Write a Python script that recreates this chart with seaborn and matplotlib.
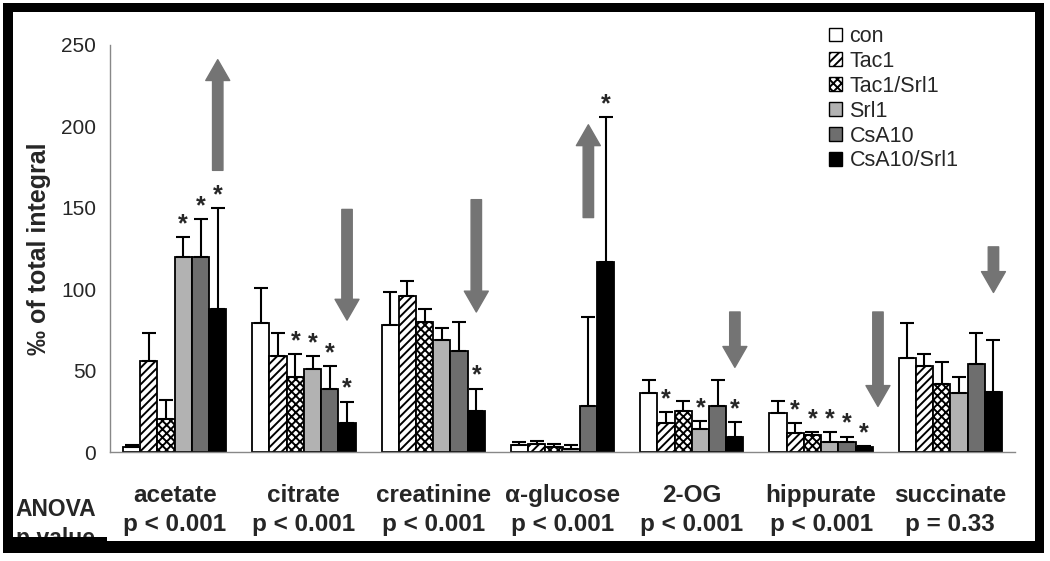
import matplotlib
matplotlib.use('Agg')
import matplotlib.pyplot as plt
from matplotlib import font_manager
from matplotlib.patches import Patch, Rectangle
import numpy as np
import pandas as pd
import seaborn as sns

metabolites = ['acetate', 'citrate', 'creatinine', 'α-glucose', '2-OG', 'hippurate', 'succinate']
p_values = ['p < 0.001', 'p < 0.001', 'p < 0.001', 'p < 0.001', 'p < 0.001', 'p < 0.001', 'p = 0.33']
groups = ['con', 'Tac1', 'Tac1/Srl1', 'Srl1', 'CsA10', 'CsA10/Srl1']

# means and SD (upper error) per treatment group, in metabolite order
con_mean = [3, 79, 78, 4.5, 36, 24, 58]
con_sd = [1, 22, 20, 1.7, 8.5, 7.5, 21]
tac1_mean = [56, 59, 96, 5, 18, 11.5, 53]
tac1_sd = [17, 14, 9, 2, 6.5, 6.5, 7.5]
tac1_srl1_mean = [20, 46, 80, 3, 25, 10.5, 42]
tac1_srl1_sd = [12, 14, 8, 2, 6.5, 1.5, 13]
srl1_mean = [120, 51, 69, 2, 14, 6, 36]
srl1_sd = [12, 8, 7, 2.5, 5, 6.5, 10]
csa10_mean = [120, 39, 62, 28, 28, 6, 54]
csa10_sd = [23, 14, 18, 55, 16.5, 3.5, 19]
csa10_srl1_mean = [88, 18, 25, 117, 9, 3, 37]
csa10_srl1_sd = [62, 13, 14, 89, 9.5, 0.5, 32]

# significance vs control (1 = star)
con_star = [0, 0, 0, 0, 0, 0, 0]
tac1_star = [0, 0, 0, 0, 1, 1, 0]
tac1_srl1_star = [0, 1, 0, 0, 0, 1, 0]
srl1_star = [1, 1, 0, 0, 1, 1, 0]
csa10_star = [1, 1, 0, 0, 0, 1, 0]
csa10_srl1_star = [1, 1, 1, 1, 1, 1, 0]

# trend arrows: bar slot they sit over, start and end value
arrow_slot = [5, 5, 5, 4, 5, 5.8, 5]
arrow_from = [173, 149, 155, 144, 86, 86, 126]
arrow_to = [241, 81, 86, 201, 52, 28, 98]

means = [con_mean, tac1_mean, tac1_srl1_mean, srl1_mean, csa10_mean, csa10_srl1_mean]
sds = [con_sd, tac1_sd, tac1_srl1_sd, srl1_sd, csa10_sd, csa10_srl1_sd]
stars = [con_star, tac1_star, tac1_srl1_star, srl1_star, csa10_star, csa10_srl1_star]

colors = ['#ffffff', '#ffffff', '#ffffff', '#b2b2b2', '#6e6e6e', '#000000']
hatches = [None, '////', 'xxxx', None, None, None]

rows = []
for g, m in zip(groups, means):
    for met, v in zip(metabolites, m):
        rows.append({'metabolite': met, 'group': g, 'value': v})
df = pd.DataFrame(rows)

sns.set_style('white')
plt.rcParams['font.family'] = ['Liberation Sans', 'DejaVu Sans']
plt.rcParams['hatch.linewidth'] = 1.4

names = {f.name for f in font_manager.fontManager.ttflist}
if 'Liberation Sans Narrow' in names:
    cat_font, cat_size = 'Liberation Sans Narrow', 19
else:
    cat_font, cat_size = 'Liberation Sans', 17.5

W, H = 1050, 561
fig = plt.figure(figsize=(10.5, 5.61), dpi=100)
ax = fig.add_axes([110 / W, 1 - 452 / H, 905 / W, 407 / H])

sns.barplot(data=df, x='metabolite', y='value', hue='group', order=metabolites,
            hue_order=groups, palette=colors, saturation=1, errorbar=None,
            edgecolor='black', linewidth=1.3, width=0.8, legend=False, ax=ax)

for cont, h, m, s, st in zip(ax.containers, hatches, means, sds, stars):
    xs = []
    for bar in cont:
        if h:
            bar.set_hatch(h)
        xs.append(bar.get_x() + bar.get_width() / 2)
    ax.errorbar(xs, m, yerr=[np.zeros(len(s)), s], fmt='none', ecolor='black',
                elinewidth=1.5, capsize=5, capthick=1.5, zorder=1)
    for x, v, e, flag in zip(xs, m, s, st):
        if flag:
            ax.text(x, v + e + 0.5, '*', ha='center', va='bottom', fontsize=18,
                    fontweight='bold')

bw = 0.8 / len(groups)
for i, (slot, a, b) in enumerate(zip(arrow_slot, arrow_from, arrow_to)):
    x = i + (slot - 2.5) * bw
    ax.annotate('', xy=(x, b), xytext=(x, a),
                arrowprops=dict(arrowstyle='simple,head_length=1.0,head_width=1.15,tail_width=0.5',
                                mutation_scale=15, color='#747474', shrinkA=0, shrinkB=0))

ax.set_ylim(0, 250)
ax.set_xlim(-0.5, len(metabolites) - 0.5)
ax.set_yticks(range(0, 251, 50))
ax.set_xticks(range(len(metabolites)))
ax.set_xticklabels([f'{m}\n{p}' for m, p in zip(metabolites, p_values)],
                   fontsize=cat_size, fontweight='bold', family=cat_font, linespacing=1.35)
ax.set_xticks(np.arange(-0.5, len(metabolites), 1), minor=True)
ax.tick_params(axis='x', which='major', length=0, pad=23)
ax.tick_params(axis='x', which='minor', length=7, color='#888888', width=1, direction='out')
ax.tick_params(axis='y', length=5, color='#888888', width=1, direction='out', labelsize=15, pad=5)
ax.set_xlabel('')
ax.set_ylabel('‰ of total integral', fontsize=18, fontweight='bold', labelpad=7)
for side in ['top', 'right']:
    ax.spines[side].set_visible(False)
for side in ['left', 'bottom']:
    ax.spines[side].set_color('#888888')
    ax.spines[side].set_linewidth(1)

handles = [Patch(facecolor=c, edgecolor='black', hatch=h, linewidth=1) for c, h in zip(colors, hatches)]
fig.legend(handles, groups, loc='upper left', bbox_to_anchor=(829 / W, 1 - 26 / H),
           frameon=False, fontsize=15.5, handlelength=0.6, handleheight=0.6,
           handletextpad=0.35, labelspacing=0.18, borderpad=0, borderaxespad=0)

fig.text(15 / W, 1 - 510 / H, 'ANOVA', fontsize=16.5, fontweight='bold', va='center', family=cat_font)
fig.text(15 / W, 1 - 538 / H, 'p-value', fontsize=16.5, fontweight='bold', va='center', family=cat_font)

# black frame around the panel
def frame(x0, y0, x1, y1):
    fig.add_artist(Rectangle((x0 / W, 1 - y1 / H), (x1 - x0) / W, (y1 - y0) / H,
                             transform=fig.transFigure, facecolor='black',
                             edgecolor='none', zorder=10))

frame(3, 3, 1044, 12)
frame(3, 3, 13, 553)
frame(1035, 3, 1044, 553)
frame(3, 541, 1044, 553)
frame(3, 537, 107, 553)

fig.savefig('out.png', dpi=100, facecolor='white')
